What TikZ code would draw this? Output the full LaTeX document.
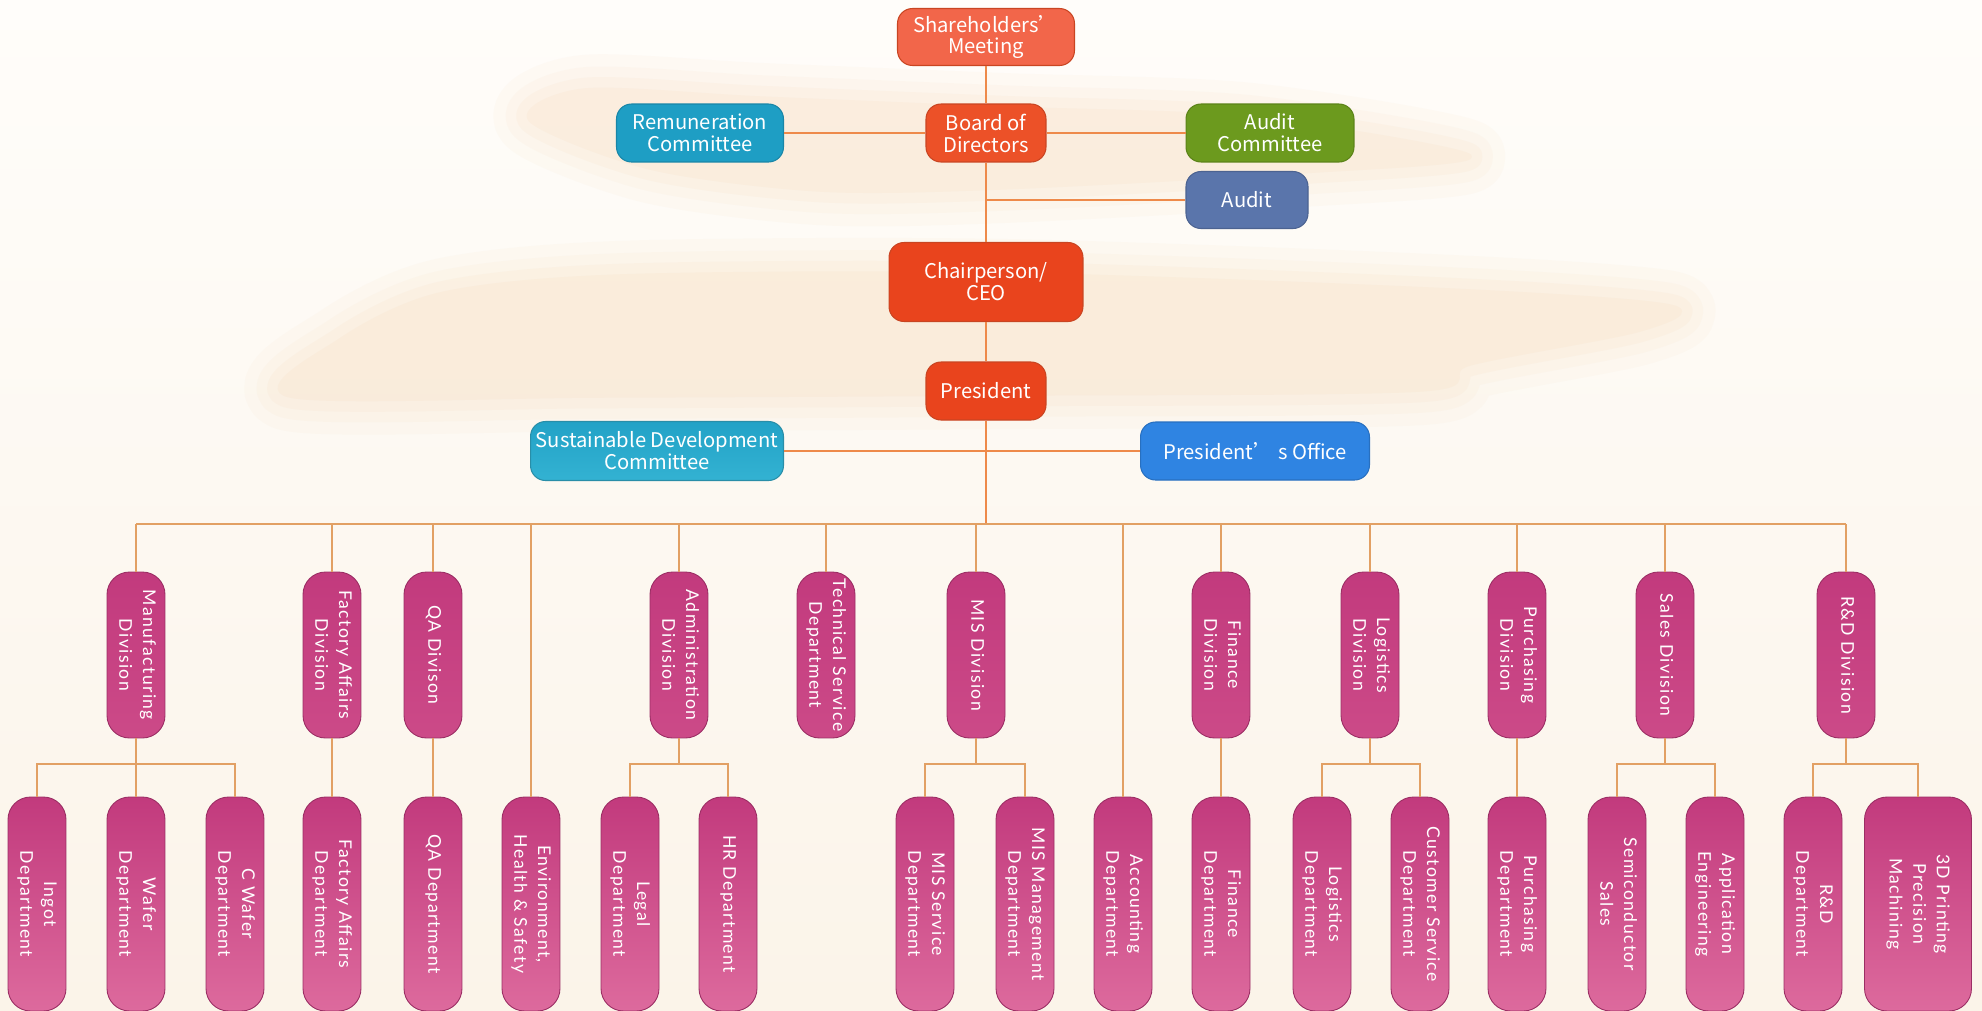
\documentclass[tikz,border=0pt]{standalone}
\usepackage{fontspec}
\setmainfont{Noto Sans CJK TC}
\newfontfamily\vfont[LetterSpace=8]{Lato}
\usepackage{graphicx}
\usetikzlibrary{calc}

\definecolor{paper}{HTML}{FFFDFA}
\definecolor{cream}{HTML}{FBF4E9}
\definecolor{brush}{HTML}{F8D2AE}
\definecolor{sharered}{HTML}{F2664A}
\definecolor{boardred}{HTML}{EC5128}
\definecolor{ceored}{HTML}{E9441D}
\definecolor{remunteal}{HTML}{1E9EC4}
\definecolor{sdcteal}{HTML}{33B2D2}
\definecolor{auditgreen}{HTML}{6C9A1E}
\definecolor{auditblue}{HTML}{5A75AB}
\definecolor{officeblue}{HTML}{2F84E2}
\definecolor{pinkdark}{HTML}{C23A7D}
\definecolor{pinkmid}{HTML}{CC4A88}
\definecolor{pinklight}{HTML}{DD6A9D}
\definecolor{linkorange}{HTML}{EE8A4A}
\definecolor{linktan}{HTML}{E2A064}

\newcommand{\vlabel}[1]{\rotatebox{-90}{\vfont\fontsize{10}{13.5}\selectfont\begin{tabular}{@{}c@{}}#1\end{tabular}}}

\begin{document}
\begin{tikzpicture}[x=0.02cm, y=-0.02cm]
\tikzstyle{topbox} = [rectangle, rounded corners=0.3cm, text=white, align=center,
font=\fontsize{11.5}{12.5}\selectfont, inner sep=2pt, line width=0.6pt]
\tikzstyle{redbox} = [topbox, fill=boardred, draw=boardred!85!black]
\tikzstyle{divbox} = [rectangle, rounded corners=0.45cm, minimum width=1.16cm,
minimum height=3.32cm, inner sep=0pt, text=white, top color=pinkdark,
bottom color=pinkmid, draw=pinkdark!80!black, line width=0.5pt]
\tikzstyle{deptbox} = [divbox, minimum height=4.28cm, bottom color=pinklight]
\tikzstyle{link} = [draw=linkorange, line width=1.6pt]
\tikzstyle{branch} = [draw=linktan, line width=1.2pt]
\tikzstyle{wash} = [fill=brush, draw=brush, line join=round]
% canvas
\useasboundingbox (0,0) rectangle (1982,1011);
\fill[top color=paper, bottom color=cream] (0,0) rectangle (1982,1011);
% watercolour strokes
\foreach \w/\o in {40/.07,26/.08,14/.1,2/.12} {
\begin{scope}[transparency group, opacity=\o]
\path[wash, line width=\w pt] plot[smooth cycle] coordinates {(530,120) (585,90)
(760,98) (1000,108) (1250,118) (1470,156) (1300,172) (1000,188) (820,190) (650,168)};
\path[wash, line width=\w pt] plot[smooth cycle] coordinates {(290,396) (340,340)
(440,294) (620,276) (1000,274) (1450,290) (1670,306) (1640,330) (1470,364)
(1420,390) (1000,394) (600,396)};
\end{scope}
}
% board level
\node [redbox, fill=sharered, minimum width=3.54cm, minimum height=1.14cm] (share) at (986,37) {Shareholders’\\Meeting};
\node [redbox, minimum width=2.4cm, minimum height=1.16cm] (board) at (986,133) {Board of\\Directors};
\node [topbox, fill=remunteal, draw=remunteal!85!black, minimum width=3.34cm, minimum height=1.16cm] (remun) at (700,133) {Remuneration\\Committee};
\node [topbox, fill=auditgreen, draw=auditgreen!85!black, minimum width=3.36cm, minimum height=1.16cm] (auditc) at (1270,133) {Audit\\Committee};
\node [topbox, fill=auditblue, draw=auditblue!85!black, minimum width=2.44cm, minimum height=1.14cm] (audit) at (1247,200) {Audit};
% management
\node [redbox, fill=ceored, minimum width=3.88cm, minimum height=1.58cm] (ceo) at (986,282) {Chairperson/\\CEO};
\node [redbox, fill=ceored, minimum width=2.4cm, minimum height=1.16cm] (pres) at (986,391) {President};
\node [topbox, top color=remunteal!80!sdcteal, bottom color=sdcteal, draw=sdcteal!80!black, minimum width=5.06cm, minimum height=1.18cm] (sdc) at (657,451) {Sustainable Development\\Committee};
\node [topbox, fill=officeblue, draw=officeblue!85!black, minimum width=4.58cm, minimum height=1.16cm] (poffice) at (1255,451) {President’ s Office};
% divisions
\node [divbox] (mfg) at (136,655) {\vlabel{Manufacturing\\Division}};
\node [divbox] (factory) at (332,655) {\vlabel{Factory Affairs\\Division}};
\node [divbox] (qa) at (433,655) {\vlabel{QA Divison}};
\node [divbox] (admin) at (679,655) {\vlabel{Administration\\Division}};
\node [divbox] (tech) at (826,655) {\vlabel{Technical Service\\Department}};
\node [divbox] (mis) at (976,655) {\vlabel{MIS Division}};
\node [divbox] (fin) at (1221,655) {\vlabel{Finance\\Division}};
\node [divbox] (logi) at (1370,655) {\vlabel{Logistics\\Division}};
\node [divbox] (purch) at (1517,655) {\vlabel{Purchasing\\Division}};
\node [divbox] (sales) at (1665,655) {\vlabel{Sales Division}};
\node [divbox] (rnd) at (1846,655) {\vlabel{R\&D Division}};
% departments
\node [deptbox] (ingot) at (37,904) {\vlabel{Ingot\\Department}};
\node [deptbox] (wafer) at (136,904) {\vlabel{Wafer\\Department}};
\node [deptbox] (cwafer) at (235,904) {\vlabel{C Wafer\\Department}};
\node [deptbox] (fadept) at (332,904) {\vlabel{Factory Affairs\\Department}};
\node [deptbox] (qadept) at (433,904) {\vlabel{QA Department}};
\node [deptbox] (env) at (531,904) {\vlabel{Environment,\\Health \& Safety}};
\node [deptbox] (legal) at (630,904) {\vlabel{Legal\\Department}};
\node [deptbox] (hr) at (728,904) {\vlabel{HR Department}};
\node [deptbox] (missvc) at (925,904) {\vlabel{MIS Service\\Department}};
\node [deptbox] (mismgmt) at (1025,904) {\vlabel{MIS Management\\Department}};
\node [deptbox] (acct) at (1123,904) {\vlabel{Accounting\\Department}};
\node [deptbox] (findept) at (1221,904) {\vlabel{Finance\\Department}};
\node [deptbox] (logidept) at (1322,904) {\vlabel{Logistics\\Department}};
\node [deptbox] (custsvc) at (1420,904) {\vlabel{Customer Service\\Department}};
\node [deptbox] (purchdept) at (1517,904) {\vlabel{Purchasing\\Department}};
\node [deptbox] (semi) at (1617,904) {\vlabel{Semiconductor\\Sales}};
\node [deptbox] (appeng) at (1715,904) {\vlabel{Application\\Engineering}};
\node [deptbox] (rnddept) at (1813,904) {\vlabel{R\&D\\Department}};
\node [deptbox, minimum width=2.14cm] (print3d) at (1918,904) {\vlabel{3D Printing\\Precision\\Machining}};
\coordinate (bus) at (986,524);
\coordinate (sub) at (0,764);
% top connectors
\draw[link] (share) -- (board);
\draw[link] (remun) -- (board);
\draw[link] (board) -- (auditc);
\draw[link] (board) -- (ceo);
\draw[link] (board.south |- audit) -- (audit);
\draw[link] (ceo) -- (pres);
\draw[link] (sdc) -- (poffice);
\draw[link] (pres) -- (bus);
% bus and divisions
\draw[branch] (mfg |- bus) -- (rnd |- bus);
\foreach \d in {mfg,factory,qa,admin,tech,mis,fin,logi,purch,sales,rnd,env,acct}
  \draw[branch] (\d |- bus) -- (\d);
\foreach \p/\c in {mfg/wafer,factory/fadept,qa/qadept,fin/findept,purch/purchdept}
  \draw[branch] (\p) -- (\c);
\foreach \p/\a/\b in {mfg/ingot/cwafer,admin/legal/hr,mis/missvc/mismgmt,
  logi/logidept/custsvc,sales/semi/appeng,rnd/rnddept/print3d}
{
  \draw[branch] (\a.north) |- (\b.north |- sub) -- (\b.north);
  \draw[branch] (\p.south) -- (\p.south |- sub);
}
\end{tikzpicture}
\end{document}
